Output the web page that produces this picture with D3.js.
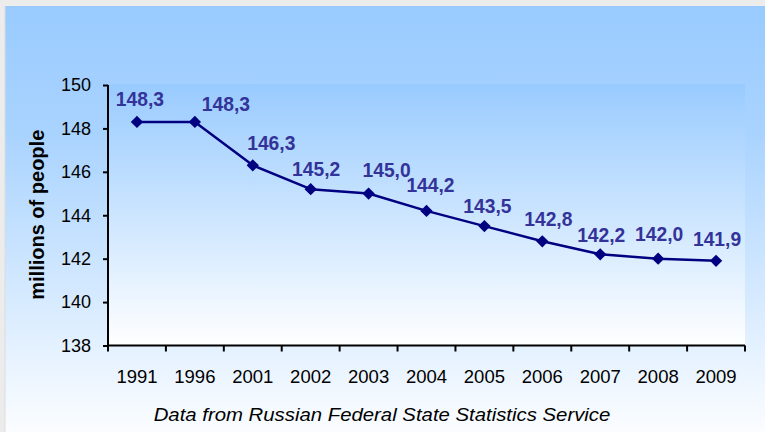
<!DOCTYPE html>
<html>
<head>
<meta charset="utf-8">
<script src="https://cdn.jsdelivr.net/npm/d3@7/dist/d3.min.js"></script>
<style>
  html, body { margin: 0; padding: 0; background: #ececec; }
  svg { display: block; }
  text { font-family: "Liberation Sans", Arial, sans-serif; }
</style>
</head>
<body>
<svg id="chart" width="765" height="432"></svg>
<script>
// Population of Russia, millions of people
const years = ["1991", "1996", "2001", "2002", "2003", "2004", "2005", "2006", "2007", "2008", "2009"];
const population = [148.3, 148.3, 146.3, 145.2, 145.0, 144.2, 143.5, 142.8, 142.2, 142.0, 141.9];
const yTicks = [138, 140, 142, 144, 146, 148, 150];
// small per-label nudges (dx, dy) so value labels sit clear of the line
const labelNudge = [[3, -15.5], [31, -10.5], [18.5, -15], [5.5, -13], [18, -17], [4, -19],
                    [3, -13], [6, -15.7], [1, -12.5], [1, -18], [1, -14.5]];

const W = 765, H = 432;
const plot = { left: 108, right: 745, top: 84, bottom: 345.5 };

const svg = d3.select("#chart");
const defs = svg.append("defs");

function vGrad(id, stops) {
  const g = defs.append("linearGradient").attr("id", id)
    .attr("x1", 0).attr("y1", 0).attr("x2", 0).attr("y2", 1);
  stops.forEach(([o, c]) => g.append("stop").attr("offset", o).attr("stop-color", c));
}
vGrad("panelGrad", [[0, "#99cbff"], [0.3, "#a9d3ff"], [1, "#fbfdff"]]);
vGrad("plotGrad", [[0, "#99cbff"], [1, "#ffffff"]]);

// frame and backgrounds
svg.append("rect").attr("width", W).attr("height", H).attr("fill", "#ececec");
svg.append("rect").attr("x", 5).attr("y", 6).attr("width", W - 5).attr("height", H - 6)
  .attr("fill", "url(#panelGrad)");
svg.append("line").attr("x1", 5).attr("x2", 5).attr("y1", 6).attr("y2", H)
  .attr("stroke", "#dcdcdc").attr("stroke-width", 1);
svg.append("rect").attr("x", plot.left).attr("y", plot.top)
  .attr("width", plot.right - plot.left).attr("height", plot.bottom - plot.top)
  .attr("fill", "url(#plotGrad)");

// scales
const x = d3.scaleBand().domain(years).range([plot.left, plot.right]).padding(0);
const y = d3.scaleLinear().domain([138, 150]).range([plot.bottom, plot.top + 1]);

// y axis
const yAxis = svg.append("g").attr("transform", `translate(${plot.left},0)`)
  .call(d3.axisLeft(y).tickValues(yTicks).tickSize(5).tickPadding(12).tickFormat(d3.format("d")));
yAxis.select(".domain").attr("stroke", "#000").attr("stroke-width", 2)
  .attr("d", `M0,${y(150)}V${y(138)}`);
yAxis.selectAll(".tick line").attr("stroke", "#000").attr("stroke-width", 2);
yAxis.selectAll(".tick text").attr("font-size", 18).attr("fill", "#000")
  .attr("font-family", "Liberation Sans, Arial, sans-serif");

// x axis: labels at category centres, tick marks on category boundaries
const xAxis = svg.append("g").attr("transform", `translate(0,${plot.bottom})`)
  .call(d3.axisBottom(x).tickSize(0).tickPadding(24));
xAxis.select(".domain").attr("stroke", "#000").attr("stroke-width", 2)
  .attr("d", `M${plot.left},0H${plot.right}`);
xAxis.selectAll(".tick text").attr("font-size", 18.5).attr("fill", "#000")
  .attr("font-family", "Liberation Sans, Arial, sans-serif");
const bounds = years.map(d => x(d)).concat([x(years[years.length - 1]) + x.bandwidth()]);
xAxis.selectAll("line.bound").data(bounds).join("line").attr("class", "bound")
  .attr("x1", d => d).attr("x2", d => d).attr("y1", 0).attr("y2", 6)
  .attr("stroke", "#000").attr("stroke-width", 2);

// y axis title
svg.append("text")
  .attr("transform", `translate(44,${(plot.top + plot.bottom) / 2}) rotate(-90)`)
  .attr("text-anchor", "middle")
  .attr("font-size", 20).attr("font-weight", "bold").attr("fill", "#000")
  .text("millions of people");

// series line
const cx = d => x(d) + x.bandwidth() / 2;
const pts = years.map((d, i) => [cx(d), y(population[i])]);
svg.append("path").datum(pts)
  .attr("d", d3.line())
  .attr("fill", "none").attr("stroke", "#000080").attr("stroke-width", 2.5)
  .attr("stroke-linejoin", "round");

// diamond markers
const diamond = d3.symbol().type(d3.symbolSquare).size(76);
svg.append("g").selectAll("path").data(pts).join("path")
  .attr("d", diamond)
  .attr("transform", d => `translate(${d[0]},${d[1]}) rotate(45)`)
  .attr("fill", "#000080");

// value labels, decimal comma (slightly tall glyphs)
const ru = d3.formatLocale({ decimal: ",", thousands: " ", grouping: [3], currency: ["", ""] });
const fmt = ru.format(".1f");
svg.append("g").selectAll("text").data(population).join("text")
  .attr("transform", (v, i) =>
    `translate(${pts[i][0] + labelNudge[i][0]},${pts[i][1] + labelNudge[i][1]}) scale(0.94,1)`)
  .attr("text-anchor", "middle")
  .attr("font-size", 20.5).attr("font-weight", "bold").attr("fill", "#333399")
  .text(v => fmt(v));

// source note
svg.append("text")
  .attr("transform", "translate(382,421) scale(1.1,1)")
  .attr("text-anchor", "middle")
  .attr("font-size", 18.5).attr("font-style", "italic").attr("fill", "#000")
  .text("Data from Russian Federal State Statistics Service");
</script>
</body>
</html>
